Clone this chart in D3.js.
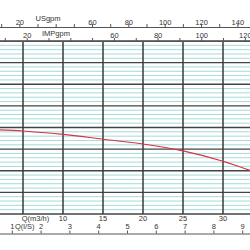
<!DOCTYPE html>
<html>
<head>
<meta charset="utf-8">
<script src="https://cdn.jsdelivr.net/npm/d3@7"></script>
<style>
  body { margin: 0; background: #fff; }
  svg { display: block; font-family: "Liberation Sans", Arial, sans-serif; }
  .axis text { font-size: 7.5px; fill: #333; }
  .axis path, .axis line { stroke: #555; }
</style>
</head>
<body>
<div id="chart"></div>
<script>
// ========================
// DATA
// ========================
const flowM3h = [0, 5, 10, 15, 20, 25, 30, 33.5];
const headM = [19.6, 19.2, 18.4, 17.3, 16.2, 14.6, 12.2, 10.0];

const m3hTicks = [5, 10, 15, 20, 25, 30];
const m3hLabels = [10, 15, 20, 25, 30];
const usTicks = [10, 20, 30, 40, 50, 60, 70, 80, 90, 100, 110, 120, 130, 140, 150];
const usLabels = [20, 60, 80, 100, 120, 140];
const impTicks = [10, 20, 30, 40, 50, 60, 70, 80, 90, 100, 110, 120];
const impLabels = [20, 60, 80, 100, 120];
const lsTicks = [1, 2, 3, 4, 5, 6, 7, 8, 9];
const headMajor = [0, 5, 10, 15, 20, 25, 30, 35, 40];
const headMinor = d3.range(0, 41).filter(v => v % 5 !== 0);

// unit conversions to m3/h
const US_TO_M3H = 0.22712;
const IMP_TO_M3H = 0.27277;
const LS_TO_M3H = 3.6;

// ========================
// SCALES
// ========================
const width = 250, height = 250;
const qMax = 35;
const x = d3.scaleLinear().domain([0, qMax]).range([-17, -17 + 8 * qMax]);
const xUs = d3.scaleLinear().domain([0, qMax / US_TO_M3H]).range(x.range());
const xImp = d3.scaleLinear().domain([0, qMax / IMP_TO_M3H]).range(x.range());
const xLs = d3.scaleLinear().domain([0, qMax / LS_TO_M3H]).range(x.range());
const gridTop = 41, gridBottom = 214;
const y = d3.scaleLinear().domain([0, 40]).range([gridBottom, gridTop]);

const svg = d3.select("#chart").append("svg")
    .attr("width", width)
    .attr("height", height);

// ========================
// GRID
// ========================
svg.append("g")
    .selectAll("line")
    .data(headMinor)
    .enter()
    .append("line")
    .attr("x1", 0).attr("x2", width)
    .attr("y1", d => y(d)).attr("y2", d => y(d))
    .attr("stroke", "#a6dada")
    .attr("stroke-width", 1);

svg.append("g")
    .selectAll("line")
    .data(headMajor)
    .enter()
    .append("line")
    .attr("x1", 0).attr("x2", width)
    .attr("y1", d => y(d)).attr("y2", d => y(d))
    .attr("stroke", "#444")
    .attr("stroke-width", 1.3);

svg.append("g")
    .selectAll("line")
    .data(m3hTicks)
    .enter()
    .append("line")
    .attr("x1", d => x(d)).attr("x2", d => x(d))
    .attr("y1", gridTop).attr("y2", gridBottom)
    .attr("stroke", "#3a3a3a")
    .attr("stroke-width", 1.5);

// ========================
// CURVE
// ========================
const line = d3.line()
    .x((d, i) => x(flowM3h[i]))
    .y(d => y(d))
    .curve(d3.curveMonotoneX);

svg.append("path")
    .datum(headM)
    .attr("d", line)
    .attr("fill", "none")
    .attr("stroke", "#d63345")
    .attr("stroke-width", 1.1);

// ========================
// AXES
// ========================
const usAxis = svg.append("g")
    .attr("class", "axis")
    .attr("transform", "translate(0,27)")
    .call(d3.axisTop(xUs).tickValues(usTicks).tickSize(3).tickSizeOuter(0).tickPadding(0.5)
        .tickFormat(d => usLabels.includes(d) ? d : ""));
usAxis.selectAll("text").attr("dy", "0.2em");
svg.append("text")
    .attr("x", 48).attr("y", 20.5)
    .attr("text-anchor", "middle")
    .attr("font-size", "7.5px").attr("fill", "#333")
    .text("USgpm");

const impAxis = svg.append("g")
    .attr("class", "axis")
    .attr("transform", `translate(0,${gridTop})`)
    .call(d3.axisTop(xImp).tickValues(impTicks).tickSize(3).tickSizeOuter(0).tickPadding(0.5)
        .tickFormat(d => impLabels.includes(d) ? d : ""));
impAxis.selectAll("text").attr("dy", "0.1em");
svg.append("text")
    .attr("x", 56).attr("y", 35.5)
    .attr("text-anchor", "middle")
    .attr("font-size", "7.5px").attr("fill", "#333")
    .text("IMPgpm");

// m3/h labels (grid bottom acts as the axis)
svg.append("g")
    .attr("class", "axis")
    .selectAll("text")
    .data(m3hLabels)
    .enter()
    .append("text")
    .attr("x", d => x(d))
    .attr("y", 220.5)
    .attr("text-anchor", "middle")
    .text(d => d);
svg.append("text")
    .attr("x", 35.5).attr("y", 220.5)
    .attr("text-anchor", "middle")
    .attr("font-size", "7.5px").attr("fill", "#333")
    .text("Q(m3/h)");

const lsAxis = svg.append("g")
    .attr("class", "axis")
    .attr("transform", "translate(0,233.5)")
    .call(d3.axisTop(xLs).tickValues(lsTicks).tickSize(3).tickSizeOuter(0).tickPadding(1.5)
        .tickFormat(d => d));
svg.append("text")
    .attr("x", 15).attr("y", 228.5)
    .attr("font-size", "7.5px").attr("fill", "#333")
    .text("Q(l/S)");
</script>
</body>
</html>
